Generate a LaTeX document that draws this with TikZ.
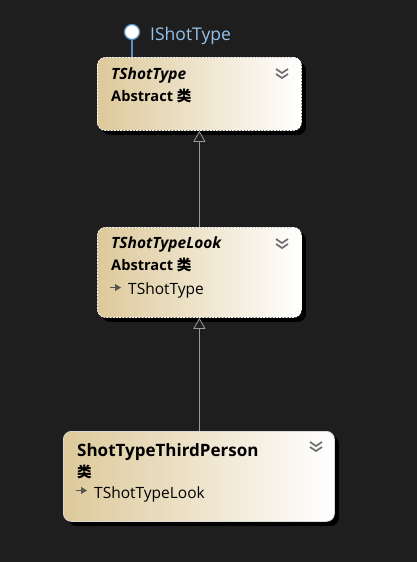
\documentclass[tikz,border=0pt]{standalone}
\usepackage{fontspec}
\setmainfont{Open Sans}
\newfontfamily\cjk{Noto Sans CJK SC}
\usetikzlibrary{shadows,arrows.meta}
\definecolor{bg}{HTML}{1E1E1E}
\definecolor{tanL}{HTML}{DDC99A}
\definecolor{ifaceblue}{HTML}{5B8FC4}
\definecolor{labelblue}{HTML}{95C3EC}
\definecolor{inhgrey}{HTML}{9A9A9A}
\definecolor{chevgrey}{HTML}{707070}
\definecolor{icongrey}{HTML}{555555}
\tikzset{
  cls/.style={rectangle, rounded corners=8pt, left color=tanL, right color=white,
    draw=white!85!black, line width=0.8pt, inner sep=0pt, anchor=north west,
    drop shadow={shadow xshift=4.5pt, shadow yshift=-4.5pt, fill=black, opacity=1}},
  abscls/.style={cls, draw=white, dash pattern=on 2pt off 1.2pt},
  titletxt/.style={anchor=base west, inner sep=0pt, font=\fontsize{15.5}{17}\selectfont\bfseries\itshape},
  bigtitle/.style={anchor=base west, inner sep=0pt, font=\fontsize{17}{19}\selectfont\bfseries},
  subtxt/.style={anchor=base west, inner sep=0pt, font=\fontsize{14.6}{16}\selectfont\bfseries},
  basetxt/.style={anchor=base west, inner sep=0pt, font=\fontsize{15.5}{17}\selectfont},
  inh/.style={draw=inhgrey, line width=0.8pt, -{Triangle[open, length=11pt, width=12pt, fill=bg]}},
  chev/.style={draw=chevgrey, line width=1.7pt, line join=miter},
  chevron/.pic={
    \draw[chev] (-6,-5) -- (0,-1) -- (6,-5);
    \draw[chev] (-6,0) -- (0,4) -- (6,0);
  },
  inharrow/.pic={
    \draw[icongrey, line width=1.8pt] (-6,0) -- (0,0);
    \fill[icongrey] (-1,-3.6) -- (5,0) -- (-1,3.6) -- cycle;
  }
}
\begin{document}
\begin{tikzpicture}[x=1pt,y=-1pt]
\useasboundingbox (0,0) rectangle (417,562);
\fill[bg] (0,0) rectangle (417,562);

% boxes
\node[abscls, minimum width=204pt, minimum height=73pt] (b1) at (97,57) {};
\node[abscls, minimum width=204pt, minimum height=90pt] (b2) at (97,227) {};
\node[cls, minimum width=271pt, minimum height=90pt] (b3) at (63,431) {};

% interface lollipop
\node[circle, draw=ifaceblue, fill=white, line width=1.2pt, minimum size=15pt, inner sep=0pt] (iface) at (132,32) {};
\draw[ifaceblue, line width=1.2pt] (iface) -- (iface |- b1.north);
\node[anchor=base west, inner sep=0pt, text=labelblue, font=\fontsize{17.5}{19}\selectfont] (ilabel) at (150,40) {IShotType};

% box 1 text
\node[titletxt] (t1) at (111,79) {TShotType};
\node[subtxt] (s1) at (111,101) {Abstract {\cjk 类}};
\pic at (282,74) {chevron};

% box 2 text
\node[titletxt] (t2) at (111,248) {TShotTypeLook};
\node[subtxt] (s2) at (111,270) {Abstract {\cjk 类}};
\pic at (116,287.5) {inharrow};
\node[basetxt] (p2) at (128,294) {TShotType};
\pic at (282,244) {chevron};

% box 3 text
\node[bigtitle] (t3) at (77,456) {ShotTypeThirdPerson};
\node[subtxt] (s3) at (77,477) {\cjk 类};
\pic at (82,490.5) {inharrow};
\node[basetxt] (p3) at (94,498) {TShotTypeLook};
\pic at (316,447) {chevron};

% inheritance
\draw[inh] (b2.north) -- (b1.south);
\draw[inh] (b3.north -| b2.south) -- (b2.south);
\end{tikzpicture}
\end{document}
